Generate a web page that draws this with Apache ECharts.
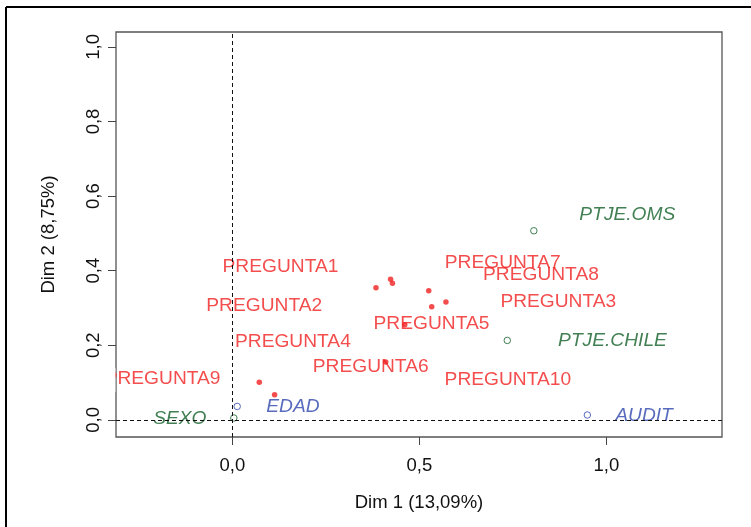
<!DOCTYPE html>
<html>
<head>
<meta charset="utf-8">
<script src="https://cdn.jsdelivr.net/npm/echarts@6/dist/echarts.min.js"></script>
<style>
  html, body { margin: 0; padding: 0; background: #fff; }
  #chart { width: 751px; height: 527px; }
</style>
</head>
<body>
<div id="chart"></div>
<script>
// Survey items (active categories)
const itemNames = ['PREGUNTA1', 'PREGUNTA2', 'PREGUNTA3', 'PREGUNTA4', 'PREGUNTA5',
                   'PREGUNTA6', 'PREGUNTA7', 'PREGUNTA8', 'PREGUNTA9', 'PREGUNTA10'];
const itemDim1 = [0.384, 0.428, 0.533, 0.113, 0.461, 0.410, 0.525, 0.571, 0.072, 0.423];
const itemDim2 = [0.354, 0.366, 0.303, 0.067, 0.255, 0.155, 0.346, 0.316, 0.101, 0.377];

// Supplementary score variables (green)
const scoreNames = ['PTJE.OMS', 'PTJE.CHILE', 'SEXO'];
const scoreDim1 = [0.806, 0.735, 0.004];
const scoreDim2 = [0.507, 0.213, 0.005];

// Supplementary variables (blue)
const suppNames = ['AUDIT', 'EDAD'];
const suppDim1 = [0.949, 0.013];
const suppDim2 = [0.013, 0.036];

// Tick values
const xTicks = [0, 0.5, 1.0];
const yTicks = [0, 0.2, 0.4, 0.6, 0.8, 1.0];

// Label placement relative to each point, in pixels [dx, dy]
const itemLabelOffsets = [[-95.5, -21], [-128.2, 22.4], [126.6, -4.7], [18.3, -52.7], [26.7, -0.7],
                          [-15, 4.4], [74, -27.7], [95, -27], [-96.7, -3], [117.3, 100.7]];
const scoreLabelOffsets = [[93.5, -16.4], [105.2, 0.4], [-54, 0.3]];
const suppLabelOffsets = [[56.7, 0.7], [55.7, 0.6]];

const RED = '#f02020';
const GREEN = '#136029';
const BLUE = '#2e46ab';
const FONT = 'Liberation Sans, Arial, sans-serif';
const comma = v => v.toFixed(1).replace('.', ',');

function build(names, xs, ys, offsets) {
  return names.map((n, i) => ({
    name: n,
    value: [xs[i], ys[i]],
    label: { offset: offsets[i] }
  }));
}

const chart = echarts.init(document.getElementById('chart'), null, { renderer: 'canvas' });

const labelBase = {
  show: true,
  formatter: p => p.name,
  position: 'inside',
  fontFamily: FONT,
  fontSize: 19.2,
  align: 'center',
  verticalAlign: 'middle'
};

chart.setOption({
  animation: false,
  backgroundColor: '#fff',
  grid: {
    left: 116, top: 32, width: 606, height: 405,
    show: true, borderColor: '#555', borderWidth: 1.3, backgroundColor: 'transparent'
  },
  xAxis: {
    type: 'value', min: -0.311, max: 1.309,
    name: 'Dim 1 (13,09%)', nameLocation: 'middle', nameGap: 56,
    nameTextStyle: { fontFamily: FONT, fontSize: 18.5, color: '#111' },
    axisLine: { show: false, onZero: false },
    splitLine: { show: false },
    axisTick: { show: true, inside: false, length: 8, customValues: xTicks, lineStyle: { color: '#444', width: 1 } },
    axisLabel: { customValues: xTicks, formatter: comma, margin: 19, fontFamily: FONT, fontSize: 18.5, color: '#111' }
  },
  yAxis: {
    type: 'value', min: -0.046, max: 1.04,
    name: 'Dim 2 (8,75%)', nameLocation: 'middle', nameGap: 58, nameRotate: 90,
    nameTextStyle: { fontFamily: FONT, fontSize: 18.5, color: '#111' },
    axisLine: { show: false, onZero: false },
    splitLine: { show: false },
    axisTick: { show: true, inside: false, length: 8, customValues: yTicks, lineStyle: { color: '#444', width: 1 } },
    axisLabel: { customValues: yTicks, formatter: comma, rotate: 90, margin: 13, fontFamily: FONT, fontSize: 18.5, color: '#111' }
  },
  graphic: [
    // page frame (top and left edges)
    { type: 'line', shape: { x1: 6, y1: 7, x2: 751, y2: 7 }, style: { stroke: '#000', lineWidth: 2 }, z: 100 },
    { type: 'line', shape: { x1: 6, y1: 7, x2: 6, y2: 527 }, style: { stroke: '#000', lineWidth: 2 }, z: 100 },
    // keep labels inside the plotting region on the left
    { type: 'rect', shape: { x: 95, y: 368, width: 20.4, height: 24 }, style: { fill: '#fff' }, z: 100 }
  ],
  series: [
    {
      type: 'scatter', name: 'items',
      symbol: 'circle', symbolSize: 5.5,
      itemStyle: { color: RED },
      label: Object.assign({}, labelBase, { color: RED }),
      data: build(itemNames, itemDim1, itemDim2, itemLabelOffsets),
      markLine: {
        silent: true, symbol: 'none',
        label: { show: false },
        lineStyle: { color: '#111', type: [4, 3], width: 1 },
        data: [{ xAxis: 0 }, { yAxis: 0 }]
      },
      z: 3
    },
    {
      type: 'scatter', name: 'scores',
      symbol: 'circle', symbolSize: 6.5,
      itemStyle: { color: 'rgba(255,255,255,0)', borderColor: GREEN, borderWidth: 1 },
      label: Object.assign({}, labelBase, { color: GREEN, fontStyle: 'italic' }),
      data: build(scoreNames, scoreDim1, scoreDim2, scoreLabelOffsets),
      z: 3
    },
    {
      type: 'scatter', name: 'supp',
      symbol: 'circle', symbolSize: 6.5,
      itemStyle: { color: 'rgba(255,255,255,0)', borderColor: BLUE, borderWidth: 1 },
      label: Object.assign({}, labelBase, { color: BLUE, fontStyle: 'italic' }),
      data: build(suppNames, suppDim1, suppDim2, suppLabelOffsets),
      z: 3
    }
  ]
});
</script>
</body>
</html>
